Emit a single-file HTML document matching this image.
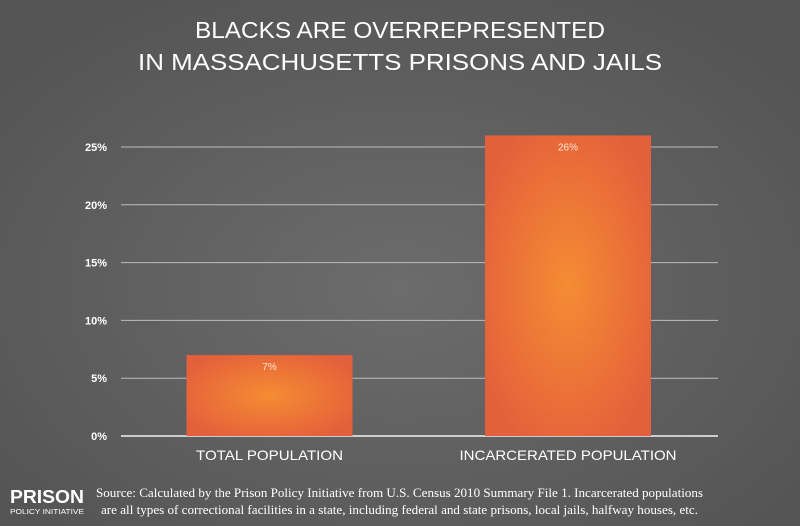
<!DOCTYPE html>
<html><head><meta charset="utf-8"><style>
html,body{margin:0;padding:0;width:800px;height:526px;overflow:hidden;background:#5a5a5b}
</style></head><body>
<svg width="800" height="526" viewBox="0 0 800 526" xmlns="http://www.w3.org/2000/svg">
<defs>
<radialGradient id="bg" cx="50%" cy="55%" r="65%"><stop offset="0" stop-color="#6c6c6d"/><stop offset="1" stop-color="#545455"/></radialGradient>
<radialGradient id="bar" cx="50%" cy="50%" r="60%"><stop offset="0" stop-color="#f58c33"/><stop offset="1" stop-color="#e45f3b"/></radialGradient>
</defs>
<rect width="800" height="526" fill="url(#bg)"/>
<g fill="#fff" font-family="Liberation Sans, sans-serif" font-size="23" text-anchor="middle">
<text x="400" y="38" textLength="410" lengthAdjust="spacingAndGlyphs">BLACKS ARE OVERREPRESENTED</text>
<text x="400" y="70" textLength="524" lengthAdjust="spacingAndGlyphs">IN MASSACHUSETTS PRISONS AND JAILS</text>
</g>
<g id="grid"></g><g id="bars"></g><g id="labels"></g>
<g fill="#fff">
<text x="10" y="503" font-family="Liberation Sans, sans-serif" font-weight="bold" font-size="18" textLength="74" lengthAdjust="spacingAndGlyphs">PRISON</text>
<text x="10" y="514" font-family="Liberation Sans, sans-serif" font-size="7" textLength="74" lengthAdjust="spacingAndGlyphs">POLICY INITIATIVE</text>
<text x="96" y="497" font-family="Liberation Serif, serif" font-size="12.5" textLength="607" lengthAdjust="spacingAndGlyphs">Source: Calculated by the Prison Policy Initiative from U.S. Census 2010 Summary File 1. Incarcerated populations</text>
<text x="101" y="514" font-family="Liberation Serif, serif" font-size="12.5" textLength="597" lengthAdjust="spacingAndGlyphs">are all types of correctional facilities in a state, including federal and state prisons, local jails, halfway houses, etc.</text>
</g>
</svg>
<script>
const categories=["TOTAL POPULATION","INCARCERATED POPULATION"];
const values=[7,26];
const valueLabels=["7%","26%"];
const ticks=[0,5,10,15,20,25];
const tickLabels=["0%","5%","10%","15%","20%","25%"];
const NS="http://www.w3.org/2000/svg";
const y=v=>436-v*11.56;
const xc=i=>269.5+i*298.5;
const labelW=[147,217];
function mk(t,a,p){const e=document.createElementNS(NS,t);for(const k in a)e.setAttribute(k,a[k]);p.appendChild(e);return e;}
const g=document.getElementById('grid'),b=document.getElementById('bars'),l=document.getElementById('labels');
ticks.forEach((t,i)=>{
const ln=mk('line',{x1:121,x2:718,y1:y(t),y2:y(t),stroke:t===0?'#f2f2f2':'#bdbdbd','stroke-width':t===0?1.5:1},g);


const tx=mk('text',{x:107,y:y(t)+4,'text-anchor':'end',fill:'#fff','font-family':'Liberation Sans, sans-serif','font-weight':'bold','font-size':11},g);
tx.textContent=tickLabels[i];


});
values.forEach((v,i)=>{
const r=mk('rect',{x:xc(i)-83,y:y(v),width:166,height:y(0)-y(v),fill:'url(#bar)'},b);


const vt=mk('text',{x:xc(i),y:y(v)+15,'text-anchor':'middle',fill:'#fde9d6','font-family':'Liberation Sans, sans-serif','font-size':10},b);
vt.textContent=valueLabels[i];


const ct=mk('text',{x:xc(i),y:460,'text-anchor':'middle',fill:'#fff','font-family':'Liberation Sans, sans-serif','font-size':14,textLength:labelW[i],lengthAdjust:'spacingAndGlyphs'},l);
ct.textContent=categories[i];


});
</script>
</body></html>
